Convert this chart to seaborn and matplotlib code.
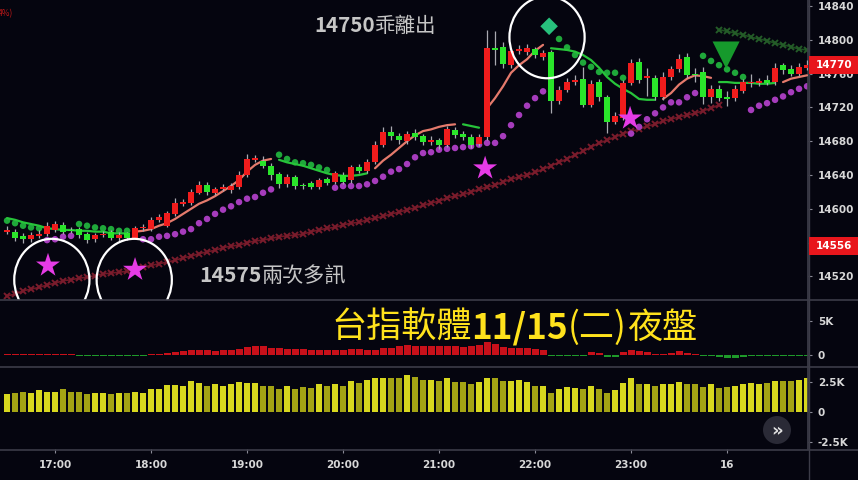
import numpy as np
import pandas as pd
import matplotlib
matplotlib.use("Agg")
import matplotlib.pyplot as plt
import seaborn as sns
from matplotlib.lines import Line2D
from matplotlib.patches import Ellipse, Rectangle

NA = np.nan

# 5-minute bars, minutes after 16:00 (16:30 ... 00:50)
bar_time = list(range(30, 535, 5))

opens = [14573, 14572, 14568, 14564, 14568, 14570, 14575, 14581, 14575, 14576,
         14570, 14564, 14569, 14573, 14565, 14571, 14566, 14577, 14576, 14587,
         14580, 14594, 14606, 14607, 14619, 14628, 14619, 14624, 14622, 14626,
         14640, 14658, 14657, 14651, 14641, 14629, 14638, 14628, 14630, 14626,
         14635, 14632, 14640, 14634, 14650, 14645, 14656, 14676, 14691, 14686,
         14680, 14690, 14686, 14679, 14681, 14676, 14693, 14689, 14685, 14677,
         14685, 14790, 14792, 14770, 14787, 14786, 14789, 14780, 14785, 14727,
         14741, 14750, 14754, 14723, 14750, 14732, 14703, 14708, 14749, 14774,
         14755, 14755, 14732, 14756, 14765, 14780, 14760, 14762, 14732, 14742,
         14732, 14731, 14740, 14749, 14749, 14752, 14750, 14770, 14766, 14760,
         14767]
highs = [14580, 14576, 14571, 14572, 14575, 14584, 14586, 14584, 14578, 14579,
         14572, 14571, 14574, 14575, 14572, 14573, 14580, 14582, 14590, 14594,
         14598, 14613, 14612, 14624, 14633, 14632, 14626, 14629, 14630, 14645,
         14665, 14664, 14662, 14654, 14644, 14641, 14640, 14631, 14633, 14637,
         14638, 14645, 14643, 14652, 14653, 14659, 14680, 14697, 14698, 14690,
         14692, 14694, 14689, 14686, 14684, 14698, 14697, 14692, 14688, 14688,
         14812, 14810, 14797, 14790, 14794, 14795, 14792, 14788, 14788, 14745,
         14755, 14758, 14768, 14752, 14754, 14735, 14715, 14752, 14777, 14778,
         14767, 14758, 14762, 14769, 14783, 14784, 14767, 14768, 14746, 14746,
         14740, 14746, 14754, 14760, 14755, 14758, 14772, 14773, 14770, 14772,
         14776]
lows = [14570, 14562, 14560, 14561, 14566, 14568, 14572, 14570, 14571, 14566,
        14560, 14561, 14567, 14563, 14562, 14563, 14564, 14574, 14574, 14584,
        14578, 14592, 14603, 14605, 14617, 14616, 14616, 14621, 14619, 14624,
        14638, 14655, 14648, 14634, 14625, 14626, 14624, 14624, 14623, 14623,
        14628, 14629, 14629, 14631, 14642, 14642, 14653, 14673, 14682, 14677,
        14677, 14682, 14675, 14676, 14671, 14673, 14684, 14681, 14672, 14674,
        14682, 14770, 14767, 14767, 14783, 14782, 14778, 14776, 14713, 14724,
        14738, 14746, 14720, 14720, 14728, 14690, 14700, 14705, 14746, 14749,
        14733, 14729, 14729, 14753, 14762, 14755, 14750, 14724, 14725, 14728,
        14722, 14728, 14737, 14744, 14745, 14746, 14747, 14760, 14757, 14757,
        14764]
closes = [14575, 14566, 14564, 14569, 14570, 14580, 14582, 14573, 14574, 14569,
          14563, 14569, 14570, 14566, 14569, 14566, 14577, 14578, 14587, 14590,
          14595, 14607, 14608, 14620, 14628, 14620, 14623, 14625, 14627, 14640,
          14659, 14660, 14651, 14640, 14629, 14638, 14627, 14627, 14626, 14634,
          14631, 14642, 14632, 14649, 14645, 14656, 14676, 14691, 14686, 14681,
          14688, 14685, 14679, 14682, 14675, 14695, 14687, 14685, 14676, 14685,
          14790, 14788, 14771, 14787, 14789, 14790, 14782, 14784, 14728, 14741,
          14750, 14753, 14723, 14748, 14732, 14703, 14710, 14749, 14773, 14752,
          14757, 14732, 14756, 14765, 14777, 14758, 14758, 14732, 14742, 14731,
          14730, 14742, 14750, 14750, 14751, 14749, 14767, 14764, 14760, 14768,
          14770]

# short moving line, coloured by trend run (u = up / salmon, d = down / green)
ma_line = [14589, 14587, 14584, 14582, 14580, 14577, 14576, 14575, 14575, 14574,
           14574, 14573, 14573, 14571, 14571, 14571, 14573, 14574, 14576, 14580,
           14583, 14588, 14594, 14600, 14606, 14610, 14615, 14621, 14627, 14634,
           14644, 14652, 14657, 14659, 14658, 14655, 14653, 14651, 14648, 14645,
           14642, 14640, 14639, 14639, 14640, 14642, 14648, 14657, 14664, 14672,
           14680, 14687, 14692, 14694, 14697, 14699, 14700, 14700, 14698, 14696,
           14719, 14731, 14745, 14761, 14770, 14777, 14787, 14794, 14790, 14789,
           14788, 14786, 14782, 14776, 14767, 14756, 14748, 14742, 14737, 14730,
           14729, 14729, 14730, 14737, 14747, 14754, 14758, 14757, 14755, 14750,
           14750, 14749, 14749, 14749, 14748, 14748, 14749, 14750, 14754, 14756,
           14758]
ma_trend = ("dddddddddddddddd" "uuuuuuuuuuuuuuuuuu" "dddddddddddd" "uuuuuuuuuuu"
            "ddd" "uuuuuuuu" "dddddddddddddd" "uuuuuuu" "dddddddd" "uuuu")

# trailing stop dots
stop_long = [NA, NA, NA, NA, NA, 14563, 14564, 14567, 14568, NA,
             NA, NA, NA, NA, NA, NA, NA, 14564, 14564, 14567,
             14568, 14570, 14573, 14576, 14583, 14588, 14594, 14599, 14603, 14608,
             14612, 14614, 14619, 14623, NA, NA, NA, NA, NA, NA,
             NA, 14625, 14627, 14627, 14627, 14629, 14633, 14638, 14644, 14647,
             14653, 14661, 14666, 14667, 14670, 14671, 14672, 14673, 14674, 14676,
             14678, 14678, 14686, 14699, 14711, 14722, 14731, 14739, NA, NA,
             NA, NA, NA, NA, NA, NA, NA, NA, 14689, 14697,
             14706, 14713, 14720, 14726, 14726, 14732, 14737, NA, NA, NA,
             NA, NA, NA, 14717, 14722, 14725, 14729, 14733, 14738, 14742,
             14745]
stop_short = [14586, 14583, 14580, 14578, 14577, NA, NA, NA, NA, 14582,
              14580, 14578, 14577, 14576, 14574, 14574, NA, NA, NA, NA,
              NA, NA, NA, NA, NA, NA, NA, NA, NA, NA,
              NA, NA, NA, NA, 14664, 14659, 14655, 14654, 14652, 14649,
              14646, NA, NA, NA, NA, NA, NA, NA, NA, NA,
              NA, NA, NA, NA, NA, NA, NA, NA, NA, NA,
              NA, NA, NA, NA, NA, NA, NA, NA, NA, 14801,
              14791, 14782, 14773, 14768, 14762, 14761, 14761, 14755, NA, NA,
              NA, NA, NA, NA, NA, NA, NA, 14781, 14775, 14770,
              14765, 14761, 14756, NA, NA, NA, NA, NA, NA, NA,
              NA]

# long trailing line (crosses)
long_support = [14497, 14499, 14503, 14505, 14507, 14510, 14512, 14515, 14516, 14518,
                14519, 14521, 14523, 14524, 14525, 14526, 14529, 14531, 14533, 14535,
                14537, 14539, 14542, 14544, 14547, 14549, 14551, 14554, 14556, 14557,
                14560, 14562, 14563, 14565, 14567, 14568, 14569, 14570, 14573, 14575,
                14577, 14578, 14581, 14583, 14584, 14587, 14589, 14591, 14594, 14596,
                14599, 14601, 14604, 14607, 14609, 14613, 14615, 14617, 14620, 14623,
                14626, 14628, 14632, 14635, 14638, 14640, 14643, 14647, 14651, 14655,
                14659, 14664, 14668, 14673, 14678, 14681, 14685, 14689, 14692, 14694,
                14698, 14700, 14704, 14706, 14709, 14711, 14713, 14716, 14719, 14723,
                NA, NA, NA, NA, NA, NA, NA, NA, NA, NA, NA]
long_resist = [NA] * 89 + [14812, 14810, 14808, 14806, 14803, 14801, 14799, 14796,
                           14794, 14792, 14789, 14788]

# buy/sell delta (K) and volume (K)
delta_k = [0.15, 0.2, 0.15, 0.15, 0.1, 0.15, 0.2, 0.15, 0.1, -0.1,
           -0.1, -0.1, -0.15, -0.1, -0.2, -0.1, -0.1, -0.1, 0.1, 0.15,
           0.3, 0.5, 0.6, 0.75, 0.7, 0.8, 0.6, 0.8, 0.8, 0.9,
           1.2, 1.3, 1.4, 1.0, 1.0, 0.9, 0.9, 0.9, 0.8, 0.8,
           0.8, 0.7, 0.7, 0.9, 0.9, 0.7, 0.8, 1.1, 1.1, 1.3,
           1.5, 1.4, 1.3, 1.3, 1.3, 1.4, 1.3, 1.2, 1.3, 1.5,
           2.0, 1.6, 1.2, 1.1, 1.0, 1.0, 0.9, 0.8, -0.2, -0.15,
           -0.2, -0.15, -0.2, 0.4, 0.3, -0.3, -0.3, 0.5, 0.7, 0.6,
           0.5, 0.2, 0.2, 0.3, 0.6, 0.3, 0.15, -0.2, -0.2, -0.3,
           -0.4, -0.4, -0.3, -0.2, -0.2, -0.15, -0.15, -0.1, -0.1, -0.1,
           -0.1]
volume_k = [1.5, 1.6, 1.7, 1.6, 1.8, 1.7, 1.7, 1.9, 1.7, 1.7,
            1.5, 1.6, 1.6, 1.5, 1.6, 1.55, 1.7, 1.6, 1.9, 1.9,
            2.25, 2.25, 2.15, 2.55, 2.4, 2.2, 2.35, 2.2, 2.3, 2.5,
            2.4, 2.4, 2.2, 2.2, 1.95, 2.2, 1.9, 2.1, 2.0, 2.3,
            2.2, 2.35, 2.15, 2.55, 2.45, 2.7, 2.85, 2.85, 2.8, 2.8,
            3.1, 2.95, 2.65, 2.7, 2.6, 2.85, 2.5, 2.5, 2.35, 2.5,
            2.85, 2.8, 2.6, 2.6, 2.7, 2.5, 2.2, 2.2, 1.55, 1.95,
            2.1, 2.0, 1.9, 2.2, 1.95, 1.6, 1.8, 2.4, 2.8, 2.35,
            2.35, 2.2, 2.3, 2.35, 2.5, 2.3, 2.35, 2.1, 2.3, 2.0,
            2.1, 2.2, 2.35, 2.45, 2.35, 2.45, 2.6, 2.6, 2.6, 2.7,
            2.85]

# signal marks (time in minutes after 16:00, price)
star_time = [55.6, 110.0, 328.8, 419.4]
star_price = [14533, 14528, 14648, 14707]
ring_time = [58.0, 109.5, 367.5]
ring_price = [14516, 14516, 14803]
diamond_time = [368.8]
diamond_price = [14816]
triangle_time = [479.4]
triangle_price = [14782]

time_ticks = [60, 120, 180, 240, 300, 360, 420, 480]
time_labels = ["17:00", "18:00", "19:00", "20:00", "21:00", "22:00", "23:00", "16"]
price_ticks = [14520, 14560, 14600, 14640, 14680, 14720, 14760, 14800, 14840]
last_price = 14770
mark_price = 14556

BG = "#05050f"
GRID = "#3c3c48"
TXT = "#d8d8d8"
UP = "#f01c1c"
DN = "#2ae52a"
CJK = ["Noto Sans CJK TC", "DejaVu Sans"]

sns.set_theme(style="dark", rc={"axes.facecolor": BG, "figure.facecolor": BG})
plt.rcParams["font.family"] = CJK

W, H = 858, 480
fig = plt.figure(figsize=(W / 100, H / 100), dpi=100)
fig.patch.set_facecolor(BG)
right = 808 / W
ax1 = fig.add_axes([0, 1 - 299 / H, right, 299 / H])
ax2 = fig.add_axes([0, 1 - 366 / H, right, 66 / H], sharex=ax1)
ax3 = fig.add_axes([0, 1 - 449 / H, right, 82 / H], sharex=ax1)

df = pd.DataFrame({"t": bar_time, "o": opens, "h": highs, "l": lows, "c": closes,
                   "ma": ma_line, "trend": list(ma_trend), "sl": stop_long,
                   "ss": stop_short, "lsup": long_support, "lres": long_resist,
                   "delta": delta_k, "vol": volume_k})
df["up"] = df["c"] >= df["o"]

for ax in (ax1, ax2, ax3):
    ax.set_facecolor(BG)
    for s in ("top", "left", "bottom"):
        ax.spines[s].set_visible(False)
    ax.spines["right"].set_color(GRID)
    ax.yaxis.tick_right()
    ax.tick_params(axis="y", colors="#8a8a96", labelcolor=TXT, labelsize=7.5,
                   length=3, width=0.8, pad=4)
    ax.grid(False)

# --- main price panel
# long trailing crosses
sns.lineplot(data=df, x="t", y="lsup", ax=ax1, color="#6e1826", lw=1.2,
             marker="x", markersize=4.5, markeredgewidth=1.4, markeredgecolor="#7a1c2c",
             zorder=1)
sns.lineplot(data=df, x="t", y="lres", ax=ax1, color="#1f4f22", lw=1.2,
             marker="x", markersize=4.5, markeredgewidth=1.4, markeredgecolor="#245c28",
             zorder=1)

# trailing stop dots
sns.scatterplot(data=df, x="t", y="sl", ax=ax1, color="#a63cbc", s=22,
                edgecolor="none", zorder=2)
sns.scatterplot(data=df, x="t", y="ss", ax=ax1, color="#1fa83a", s=22,
                edgecolor="none", zorder=2)

# moving line in runs
run_id = (df["trend"] != df["trend"].shift()).cumsum()
for _, run in df.groupby(run_id):
    col = "#e57a6c" if run["trend"].iloc[0] == "u" else "#27c43a"
    if len(run) > 1:
        sns.lineplot(data=run, x="t", y="ma", ax=ax1, color=col, lw=1.6, zorder=3)

# candles
wick = "#a9a9b0"
ax1.vlines(df["t"], df["l"], df["h"], color=wick, lw=0.9, zorder=4)
body_bottom = np.minimum(df["o"], df["c"])
body_h = np.maximum(np.abs(df["c"] - df["o"]), 1.3)
ax1.bar(df["t"], body_h, bottom=body_bottom, width=3.7,
        color=[UP if u else DN for u in df["up"]], zorder=5, linewidth=0)

# signal marks
sns.scatterplot(x=star_time, y=star_price, ax=ax1, marker="*", s=330,
                color="#e63be6", edgecolor="none", zorder=6)
sns.scatterplot(x=diamond_time, y=diamond_price, ax=ax1, marker="D", s=80,
                color="#27c07c", edgecolor="none", zorder=6)
sns.scatterplot(x=triangle_time, y=triangle_price, ax=ax1, marker="v", s=380,
                color="#169a2c", edgecolor="none", zorder=6)
for rt, rp in zip(ring_time, ring_price):
    e = Ellipse((rt, rp), width=47, height=97, fill=False, ec="white", lw=1.6,
                zorder=7, clip_on=False)
    ax1.add_patch(e)

ax1.set_xlim(25.6, 530.6)
ax1.set_ylim(14493.3, 14847.1)
ax1.set_yticks(price_ticks)
# 14560 sits under the 14556 price tag
ax1.set_yticklabels(["" if p == 14560 else str(p) for p in price_ticks],
                    fontweight="bold", family="DejaVu Sans")
ax1.tick_params(axis="x", bottom=False, labelbottom=False)

# --- delta panel
ax2.bar(df["t"], df["delta"], width=4.4,
        color=["#c8101a" if d > 0 else "#1e9a2a" for d in df["delta"]], linewidth=0)
ax2.set_ylim(-1.6, 8.1)
ax2.set_yticks([0, 5])
ax2.set_yticklabels(["0", "5K"], fontweight="bold", family="DejaVu Sans")
ax2.tick_params(axis="x", bottom=False, labelbottom=False)

# --- volume panel
ax3.bar(df["t"], df["vol"], width=4.0,
        color=["#d7d71e" if u else "#a3a314" for u in df["up"]], linewidth=0)
ax3.set_ylim(-3.08, 3.75)
ax3.set_yticks([-2.5, 0, 2.5])
ax3.set_yticklabels(["-2.5K", "0", "2.5K"], fontweight="bold", family="DejaVu Sans")
ax3.set_xticks(time_ticks)
ax3.set_xticklabels(time_labels, fontweight="bold", family="DejaVu Sans")
ax3.tick_params(axis="x", bottom=True, labelbottom=True, colors="#8a8a96",
                labelcolor=TXT, labelsize=7.5, length=3, width=0.8, pad=5)
for ax in (ax1, ax2, ax3):
    ax.set_xlabel("")
    ax.set_ylabel("")

# separators
for yy in (299.5, 366.5, 449.5):
    fig.add_artist(Line2D([0, 1], [1 - yy / H] * 2, color=GRID, lw=1.2))
fig.add_artist(Line2D([808.5 / W] * 2, [0, 1], color=GRID, lw=1))

# price tags on the right axis
fig.canvas.draw()
renderer = fig.canvas.get_renderer()
for p in (last_price, mark_price):
    yd = ax1.transData.transform((100, p))[1]
    fig.add_artist(Rectangle((808.5 / W, (yd - 9) / H), 50 / W, 18 / H,
                             fc="#e8161c", ec="none", transform=fig.transFigure, zorder=10))
    fig.text(816 / W, yd / H, str(p), color="white", fontsize=7.5, fontweight="bold",
             family="DejaVu Sans", va="center", ha="left", zorder=11)


def place_pieces(x_px, y_px, pieces, color, size):
    x = x_px
    for s, w in pieces:
        t = fig.text(x / W, 1 - y_px / H, s, color=color, fontsize=size, fontweight=w,
                     family=CJK, va="center", ha="left", zorder=12)
        x += t.get_window_extent(renderer).width


place_pieces(314, 26, [("14750", "bold"), ("乖離出", "normal")], "#c6c6c6", 14.8)
place_pieces(199, 276, [("14575", "bold"), ("兩次多訊", "normal")], "#c6c6c6", 15.2)
place_pieces(331, 328, [("台指軟體", "normal"), ("11/15", "bold"), ("(二)", "normal"),
                        ("夜盤", "normal")], "#ffe21c", 25.3)
fig.text(-0.002, 1 - 14 / H, "4%)", color="#c01818", fontsize=6, va="center", ha="left")

# scroll button
fig.add_artist(Ellipse((777 / W, 1 - 430 / H), 28 / W, 28 / H, transform=fig.transFigure,
                       fc="#2a2a36", ec="none", zorder=10))
fig.text(777 / W, 1 - 431 / H, "»", color="#e0e0e0", fontsize=13, fontweight="bold",
         va="center", ha="center", family="DejaVu Sans", zorder=11)

fig.savefig("out.png", dpi=100, facecolor=BG)
